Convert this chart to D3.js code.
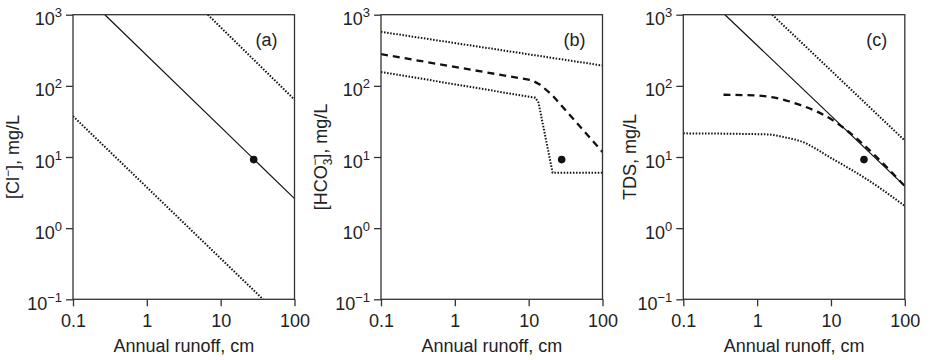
<!DOCTYPE html>
<html>
<head>
<meta charset="utf-8">
<script src="https://cdn.jsdelivr.net/npm/d3@7"></script>
<style>
  body { margin: 0; background: #fff; }
  text { font-family: "Liberation Sans", Arial, sans-serif; fill: #222; }
</style>
</head>
<body>
<div id="chart"></div>
<script>
// Data
var xTicks = [0.1, 1, 10, 100];
var yTickExps = [-1, 0, 1, 2, 3];
var panelLetters = ["(a)", "(b)", "(c)"];

// measured sample (same in all three panels)
var sampleRunoff = 28;
var sampleConc = 9.2;

// (a) chloride
var clSolid = [[0.27, 1000], [100, 2.6]];
var clUpper = [[6.7, 1000], [100, 64]];
var clLower = [[0.1, 37.5], [37.5, 0.1]];

// (b) bicarbonate
var hco3Upper = [[0.1, 575], [100, 193]];
var hco3Dashed = [[0.1, 279], [11, 120], [14.3, 104], [20.6, 75], [100, 11.8]];
var hco3Lower = [[0.1, 157], [12.3, 68], [13.6, 58], [21.1, 6], [100, 6]];

// (c) total dissolved solids
var tdsSolid = [[0.366, 1000], [100, 3.9]];
var tdsUpper = [[1.6, 1000], [100, 17]];
var tdsDashed = [[0.35, 75], [1, 73], [2, 66], [3.8, 54], [6, 45], [8, 39], [11, 32], [15, 25.4], [100, 3.9]];
var tdsLower = [[0.1, 21.5], [1.34, 20.8], [2.5, 18.7], [3.8, 16.8], [10.7, 9.3], [30.3, 4.9], [100, 2.05]];

// Set up chart
var svgWidth = 930;
var svgHeight = 360;
var plotTop = 14.7;
var plotW = 221.5;
var plotH = 284.6;
var panelLeft = [73, 381, 683.3];
var titleX = [19, 327, 636];

var svg = d3.select("#chart")
  .append("svg")
  .attr("width", svgWidth)
  .attr("height", svgHeight);

var xScale = d3.scaleLog().domain([0.1, 100]).range([0, plotW]);
var yScale = d3.scaleLog().domain([0.1, 1000]).range([plotH, 0]);

var styles = {
  solid: { width: 1.2, dash: null },
  dotted: { width: 2, dash: "1.5,1.6" },
  dashed: { width: 2.3, dash: "7,5" }
};

var panels = [
  { series: [[clSolid, "solid"], [clUpper, "dotted"], [clLower, "dotted"]], curve: d3.curveLinear },
  { series: [[hco3Upper, "dotted"], [hco3Dashed, "dashed"], [hco3Lower, "dotted"]], curve: d3.curveLinear },
  { series: [[tdsSolid, "solid"], [tdsUpper, "dotted"], [tdsDashed, "dashed"], [tdsLower, "dotted"]], curve: d3.curveMonotoneX }
];

panels.forEach(function(p, i) {
  var g = svg.append("g")
    .attr("transform", `translate(${panelLeft[i]}, ${plotTop})`);

  g.append("clipPath")
    .attr("id", "clip" + i)
    .append("rect")
    .attr("width", plotW)
    .attr("height", plotH);

  var line = d3.line()
    .x(d => xScale(d[0]))
    .y(d => yScale(d[1]))
    .curve(p.curve);

  var lines = g.append("g").attr("clip-path", `url(#clip${i})`);
  p.series.forEach(function(s) {
    var st = styles[s[1]];
    lines.append("path")
      .datum(s[0])
      .attr("d", line)
      .attr("fill", "none")
      .attr("stroke", "#111")
      .attr("stroke-width", st.width)
      .attr("stroke-dasharray", st.dash);
  });

  g.append("circle")
    .attr("cx", xScale(sampleRunoff))
    .attr("cy", yScale(sampleConc))
    .attr("r", 3.8)
    .attr("fill", "#111");

  // frame
  g.append("rect")
    .attr("width", plotW)
    .attr("height", plotH)
    .attr("fill", "none")
    .attr("stroke", "#333")
    .attr("stroke-width", 1.3);

  // x axis
  var xAxis = g.append("g")
    .attr("transform", `translate(0, ${plotH})`)
    .call(d3.axisBottom(xScale).tickValues(xTicks).tickFormat(d3.format("~g")).tickSize(7).tickSizeOuter(0));
  xAxis.select(".domain").remove();
  xAxis.selectAll("line").attr("stroke", "#333").attr("stroke-width", 1.3);
  xAxis.selectAll("text")
    .attr("y", 15)
    .attr("dy", "0.71em")
    .style("font-size", "18px")
    .attr("fill", "#222");

  // y axis
  var yAxis = g.append("g")
    .call(d3.axisLeft(yScale).tickValues(yTickExps.map(e => Math.pow(10, e))).tickSize(7).tickSizeOuter(0));
  yAxis.select(".domain").remove();
  yAxis.selectAll("line").attr("stroke", "#333").attr("stroke-width", 1.3);
  yAxis.selectAll("text").each(function(d) {
    var t = d3.select(this).text(null)
      .attr("x", -11)
      .attr("dy", null)
      .attr("y", 10)
      .style("font-size", "18px")
      .attr("fill", "#222");
    var e = Math.round(Math.log10(d));
    t.append("tspan").text("10");
    t.append("tspan")
      .attr("dy", -8)
      .style("font-size", "13px")
      .text(e < 0 ? "\u2212" + (-e) : String(e));
  });

  // panel letter
  g.append("text")
    .attr("x", plotW - 28)
    .attr("y", 31)
    .attr("text-anchor", "middle")
    .style("font-size", "18px")
    .text(panelLetters[i]);

  // x title
  g.append("text")
    .attr("x", plotW / 2)
    .attr("y", 352 - plotTop)
    .attr("text-anchor", "middle")
    .style("font-size", "18px")
    .text("Annual runoff, cm");
});

// y titles
function yTitle(i) {
  return svg.append("text")
    .attr("transform", `translate(${titleX[i]}, ${plotTop + plotH / 2}) rotate(-90)`)
    .attr("text-anchor", "middle")
    .style("font-size", "18px");
}

var t0 = yTitle(0);
t0.append("tspan").text("[Cl");
t0.append("tspan").attr("dy", -7).style("font-size", "12px").text("\u2212");
t0.append("tspan").attr("dy", 7).text("], mg/L");

var t1 = yTitle(1);
t1.append("tspan").text("[HCO");
t1.append("tspan").attr("dy", 5).style("font-size", "12px").text("3");
t1.append("tspan").attr("dx", -7).attr("dy", -13).style("font-size", "12px").text("\u2212");
t1.append("tspan").attr("dy", 8).text("], mg/L");

var t2 = yTitle(2);
t2.text("TDS, mg/L");
</script>
</body>
</html>
